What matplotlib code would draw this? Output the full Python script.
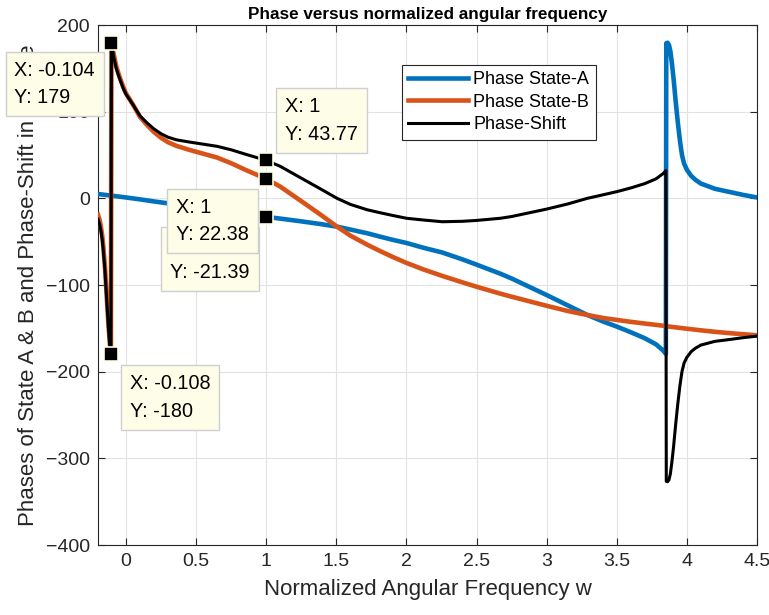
import matplotlib
matplotlib.use('Agg')
import matplotlib.pyplot as plt

plt.rcParams['font.family'] = ['Liberation Sans', 'DejaVu Sans']

# ---------------- data ----------------
w_a = [-0.2, -0.1, 0.0, 0.1, 0.2, 0.3, 0.45, 0.55, 0.65, 0.75, 0.85, 1.0, 1.1, 1.243,
       1.38, 1.505, 1.6, 1.72, 1.814, 1.9, 2.0, 2.12, 2.255, 2.4, 2.5, 2.67, 2.75, 3.0,
       3.15, 3.29, 3.4, 3.5, 3.6, 3.7, 3.78, 3.83, 3.85, 3.853, 3.862, 3.872, 3.882,
       3.893, 3.905, 3.92, 3.935, 3.95, 3.965, 3.98, 4.0, 4.03, 4.06, 4.1, 4.2, 4.3,
       4.4, 4.5]
phase_a = [5, 3, 1, -1.2, -3.6, -5.8, -9, -11, -13, -15.5, -18, -21.39, -23.4, -26.4,
           -29.5, -32.7, -36, -40.3, -44.3, -47.8, -51.5, -57, -62.5, -70.5, -76.5, -87,
           -92.5, -111.6, -123.5, -134.6, -142, -148, -154.5, -161.5, -168.5, -175.5,
           -179.5, 179, 179.5, 177, 170, 156, 138, 112, 88, 67, 50, 40, 33, 26, 21.5, 17,
           11, 7.5, 4, 1]

w_b = [-0.2, -0.19, -0.18, -0.17, -0.162, -0.15, -0.138, -0.126, -0.114, -0.108, -0.104,
       -0.09, -0.07, -0.05, -0.02, 0.0, 0.05, 0.1, 0.15, 0.2, 0.25, 0.3, 0.36, 0.45, 0.55,
       0.65, 0.75, 0.85, 1.0, 1.1, 1.243, 1.38, 1.505, 1.6, 1.72, 1.814, 1.9, 2.0, 2.12,
       2.255, 2.4, 2.5, 2.67, 2.75, 3.0, 3.15, 3.29, 3.4, 3.5, 3.6, 3.7, 3.78, 3.83, 3.85,
       3.9, 3.96, 4.03, 4.1, 4.2, 4.3, 4.4, 4.5]
phase_b = [-19, -24, -32, -43, -56, -80, -113, -145, -171, -177, 180, 167.8, 152.4, 142,
           128.4, 121, 108, 93.8, 84.6, 76.4, 69.8, 64.7, 60.5, 56, 51.5, 47, 40.5, 33,
           22.38, 13.5, -2.5, -18, -32.7, -43, -53.5, -61, -67.5, -74.5, -82, -89.5, -97,
           -102, -110, -113.5, -124, -130, -134.6, -138, -140.3, -142.5, -144.5, -146,
           -147, -147.5, -148.5, -149.7, -151, -152.3, -154, -155.5, -156.8, -158]

w_s = [-0.2, -0.19, -0.18, -0.17, -0.162, -0.15, -0.138, -0.126, -0.114, -0.108, -0.104,
       -0.09, -0.07, -0.05, -0.02, 0.0, 0.05, 0.1, 0.15, 0.2, 0.25, 0.3, 0.36, 0.45, 0.55,
       0.65, 0.75, 0.85, 1.0, 1.1, 1.243, 1.38, 1.505, 1.6, 1.72, 1.814, 1.9, 2.0, 2.12,
       2.255, 2.4, 2.5, 2.67, 2.75, 3.0, 3.15, 3.29, 3.4, 3.5, 3.6, 3.7, 3.78, 3.83, 3.85,
       3.853, 3.862, 3.872, 3.882, 3.893, 3.905, 3.92, 3.935, 3.95, 3.965, 3.98, 4.0,
       4.03, 4.06, 4.1, 4.2, 4.3, 4.4, 4.5]
phase_shift = [-24, -28.8, -36.6, -47.4, -60.2, -84, -116.8, -148.5, -174.3, -180, 179,
               165, 150, 140, 127, 120, 108, 95, 87, 80, 74.5, 70.5, 67.5, 65, 62.5, 60,
               56, 51, 43.77, 36.9, 23.9, 11.5, 0, -7, -13.2, -16.7, -19.7, -23, -25, -27,
               -26.5, -25.5, -23, -21, -12.4, -6.5, 0, 4, 7.7, 12, 17, 22.5, 28.5, 32,
               -326.5, -327, -324.8, -318, -304.3, -286.5, -260.8, -237.2, -216.5, -199.8,
               -190, -183.4, -177, -173, -169.3, -165, -163, -160.8, -159]

series_labels = ['Phase State-A', 'Phase State-B', 'Phase-Shift']

tip_x = [-0.104, 1, 1, 1, -0.108]
tip_y = [179, 43.77, 22.38, -21.39, -180]

xticks = [0, 0.5, 1, 1.5, 2, 2.5, 3, 3.5, 4, 4.5]
xtick_labels = ['0', '0.5', '1', '1.5', '2', '2.5', '3', '3.5', '4', '4.5']
yticks = [-400, -300, -200, -100, 0, 100, 200]

# ---------------- figure ----------------
fig = plt.figure(figsize=(7.69, 6.15), dpi=100)
ax = fig.add_axes([98 / 769, 1 - 545 / 615, 659 / 769, 520 / 615])

ax.plot(w_a, phase_a, color='#0072BD', lw=3.3, label=series_labels[0], zorder=3)
ax.plot(w_b, phase_b, color='#D95319', lw=3.3, label=series_labels[1], zorder=4)
ax.plot(w_s, phase_shift, color='black', lw=2.2, label=series_labels[2], zorder=5)

ax.set_xlim(-0.2, 4.5)
ax.set_ylim(-400, 200)
ax.set_xticks(xticks)
ax.set_xticklabels(xtick_labels)
ax.set_yticks(yticks)
ax.tick_params(direction='in', top=True, right=True, length=5, width=0.8,
               labelsize=14, labelcolor='#262626', color='#262626')
ax.tick_params(axis='x', pad=6)
ax.tick_params(axis='y', pad=6)
for s in ax.spines.values():
    s.set_color('#262626')
    s.set_linewidth(0.8)
ax.grid(True, color='#e2e2e2', lw=0.8)
ax.set_axisbelow(True)

ax.set_title('Phase versus normalized angular frequency', fontsize=12.3,
             fontweight='bold', pad=4)
ax.set_xlabel('Normalized Angular Frequency w', fontsize=16, color='#262626', labelpad=6)
ax.set_ylabel('Phases of State A & B and Phase-Shift in degree', fontsize=16,
              color='#262626', labelpad=5)

leg = ax.legend(loc='upper left', bbox_to_anchor=(0.4613, 0.923), borderaxespad=0,
                fontsize=13, handlelength=3.3, handletextpad=0.3, labelspacing=0.3,
                borderpad=0.35, fancybox=False, framealpha=1, edgecolor='#262626')
leg.get_frame().set_linewidth(0.8)
leg.set_zorder(20)

# ---------------- data tips ----------------
tip_offsets = [(-97, -18), (19, 63), (-90, -19), (-96, -19), (19, -20)]
tip_z = [30, 31, 33, 32, 34]
for x, y, (dx, dy), z in zip(tip_x, tip_y, tip_offsets, tip_z):
    ax.plot([x], [y], 's', ms=10, mfc='black', mec='#fdfde0', mew=1.2,
            zorder=25, clip_on=False)
    ax.annotate(f'X: {x:g}\nY: {y:g}', xy=(x, y), xytext=(dx, dy),
                textcoords='offset pixels', ha='left', va='top', fontsize=14.3,
                linespacing=1.55, color='black', zorder=z, annotation_clip=False,
                bbox=dict(boxstyle='square,pad=0.45', fc='#FDFDE8', ec='#cfcfcf', lw=1))

fig.savefig('out.png', dpi=100)
